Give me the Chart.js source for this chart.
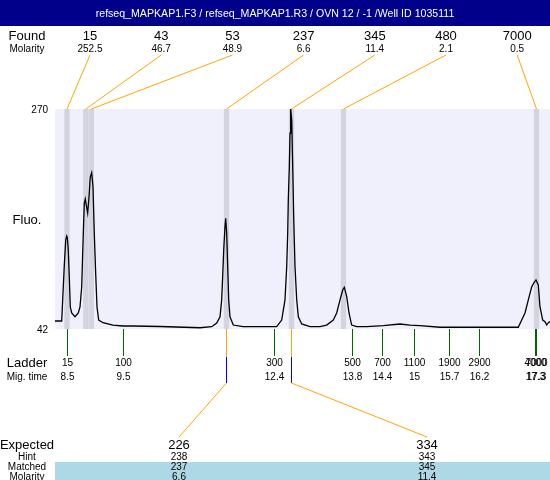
<!DOCTYPE html>
<html><head><meta charset="utf-8">
<script src="https://cdn.jsdelivr.net/npm/chart.js@4"></script>
<style>html,body{margin:0;padding:0;background:#fff;}canvas{display:block;}</style>
</head><body>
<canvas id="c" width="550" height="480"></canvas>
<script>
const titleText = "refseq_MAPKAP1.F3 / refseq_MAPKAP1.R3 / OVN 12 / -1 /Well ID 1035111";

// Found peaks
const foundSizes = [15, 43, 53, 237, 345, 480, 7000];
const foundMolarity = ["252.5", "46.7", "48.9", "6.6", "11.4", "2.1", "0.5"];
const foundTimes = [8.50, 8.854, 8.957, 11.492, 12.712, 13.687, 17.309];

// Ladder
const ladderSizes = [15, 100, 300, 500, 700, 1100, 1900, 2900, 4000, 7000];
const ladderTimes = [8.509, 9.560, 12.389, 13.841, 14.416, 15.016, 15.673, 16.229, 17.275, 17.305];
const ladderMigLabels = ["8.5", "9.5", "12.4", "13.8", "14.4", "15", "15.7", "16.2", "17.3", "17.3"];

// Expected / matched table
const expectedSizes = [226, 334];
const hintSizes = [238, 343];
const matchedSizes = [237, 345];
const matchedMolarity = ["6.6", "11.4"];

// Axis
const yTicks = [42, 270];
const xMin = 8.275, xMax = 17.562;

// Electropherogram trace (migration time, fluorescence)
const traceTime = [8.275, 8.401, 8.419, 8.449, 8.476, 8.494, 8.506, 8.524, 8.543, 8.562, 8.588, 8.650, 8.712, 8.744, 8.776,
  8.806, 8.825, 8.843, 8.862, 8.888, 8.913, 8.937, 8.963, 8.988, 9.012, 9.038, 9.063, 9.095, 9.175, 9.363, 9.551, 9.738,
  10.245, 10.995, 11.215, 11.309, 11.371, 11.402, 11.421, 11.440, 11.464, 11.477, 11.496, 11.515, 11.534, 11.558, 11.620,
  11.802, 12.121, 12.434, 12.528, 12.590, 12.622, 12.641, 12.652, 12.671, 12.684, 12.697, 12.716, 12.735, 12.753, 12.778,
  12.810, 12.840, 12.903, 13.059, 13.247, 13.372, 13.496, 13.560, 13.622, 13.673, 13.703, 13.748, 13.791, 13.841, 13.935,
  14.123, 14.434, 14.748, 14.935, 15.123, 15.498, 15.999, 16.624, 16.967, 17.031, 17.093, 17.155, 17.219, 17.262, 17.299,
  17.342, 17.374, 17.425, 17.468, 17.500, 17.530, 17.562];
const traceFluo = [50.3, 50.3, 72.1, 107.3, 134.2, 138.4, 137.0, 123.9, 95.9, 64.8, 58.6, 54.7, 58.6, 64.8, 85.5,
  141.5, 172.6, 176.7, 170.5, 162.2, 178.8, 199.5, 204.0, 189.5, 141.5, 100.0, 64.8, 51.3, 48.5, 46.1, 45.1, 45.1,
  44.6, 43.3, 44.4, 48.2, 54.7, 72.1, 96.2, 123.9, 148.0, 156.7, 141.5, 106.6, 72.1, 54.7, 46.1,
  44.4, 44.4, 44.4, 51.3, 72.1, 106.6, 141.5, 175.7, 210.2, 245.1, 270.0, 258.6, 210.2, 158.4, 106.6,
  72.1, 54.7, 47.2, 44.4, 44.4, 46.1, 51.3, 58.6, 72.1, 82.4, 85.2, 75.5, 58.6, 46.1, 44.4,
  44.4, 45.4, 47.2, 46.1, 45.4, 43.8, 43.8, 43.8, 43.8, 51.3, 58.6, 72.1, 85.8, 90.0, 92.8,
  87.6, 65.1, 51.3, 49.6, 46.1, 48.5, 49.6];

const FONT = '"Liberation Sans", Arial, Helvetica, sans-serif';
const C = {
  titleBg: '#00008B', plotBg: '#F0F0FC', band: '#D4D4E0', orange: '#FFA500',
  green: '#006400', blue: '#0000FF', matchedBg: '#ADD8E6', trace: '#000000'
};
const bandHalf = 0.05;
const foundLabelX0 = 90, foundLabelStep = 71.2;
const expectedLabelX = [179, 427];

function txt(ctx, s, x, y, size, align, color) {
  ctx.font = size + 'px ' + FONT;
  ctx.textAlign = align || 'center';
  ctx.textBaseline = 'middle';
  ctx.fillStyle = color || '#000';
  ctx.fillText(String(s), x, y);
}
function seg(ctx, x0, y0, x1, y1, color) {
  ctx.beginPath();
  ctx.strokeStyle = color;
  ctx.lineWidth = 1;
  ctx.moveTo(x0, y0); ctx.lineTo(x1, y1);
  ctx.stroke();
}

const overlay = {
  id: 'overlay',
  beforeDatasetsDraw(chart) {
    const { ctx, chartArea: a, scales: { x } } = chart;
    ctx.save();
    ctx.fillStyle = C.plotBg;
    ctx.fillRect(a.left, a.top, a.right - a.left, a.bottom - a.top);
    ctx.fillStyle = C.band;
    foundTimes.forEach(t => {
      const x0 = x.getPixelForValue(t - bandHalf), x1 = x.getPixelForValue(t + bandHalf);
      ctx.fillRect(x0, a.top, x1 - x0, a.bottom - a.top);
    });
    ctx.restore();
  },
  afterDraw(chart) {
    const { ctx, chartArea: a, scales: { x, y } } = chart;
    const W = chart.width;
    ctx.save();
    // title bar
    ctx.fillStyle = C.titleBg;
    ctx.fillRect(0, 0, W, 26);
    txt(ctx, titleText, W / 2, 14, 10.6, 'center', '#fff');

    // Found row
    txt(ctx, 'Found', 27, 36, 13);
    txt(ctx, 'Molarity', 27, 49, 10);
    foundSizes.forEach((s, i) => {
      const lx = foundLabelX0 + i * foundLabelStep;
      txt(ctx, s, lx, 36, 13);
      txt(ctx, foundMolarity[i], lx, 49, 10);
      seg(ctx, lx, 55, x.getPixelForValue(foundTimes[i]), a.top, C.orange);
    });

    // y labels
    yTicks.forEach(v => txt(ctx, v, 48, y.getPixelForValue(v) + 1, 10, 'right'));
    txt(ctx, 'Fluo.', 27, 220, 13);

    // Ladder
    txt(ctx, 'Ladder', 27, 363, 13);
    txt(ctx, 'Mig. time', 27, 377, 10);
    ladderSizes.forEach((s, i) => {
      const px = Math.round(x.getPixelForValue(ladderTimes[i])) + 0.5;
      seg(ctx, px, a.bottom, px, 356, C.green);
      txt(ctx, s, px, 363, 10);
      txt(ctx, ladderMigLabels[i], px, 377, 10);
    });

    // Expected table
    ctx.fillStyle = C.matchedBg;
    ctx.fillRect(a.left, 462, W - a.left, 480 - 462);
    txt(ctx, 'Expected', 27, 445, 13);
    txt(ctx, 'Hint', 27, 457, 10);
    txt(ctx, 'Matched', 27, 467.5, 10);
    txt(ctx, 'Molarity', 27, 477.5, 10);
    expectedSizes.forEach((s, i) => {
      const lx = expectedLabelX[i];
      txt(ctx, s, lx, 445, 13);
      txt(ctx, hintSizes[i], lx, 457, 10);
      txt(ctx, matchedSizes[i], lx, 467.5, 10);
      txt(ctx, matchedMolarity[i], lx, 477.5, 10);
      const fi = foundSizes.indexOf(matchedSizes[i]);
      const px = Math.round(x.getPixelForValue(foundTimes[fi])) + 0.5;
      seg(ctx, px, a.bottom, px, 357, C.orange);
      seg(ctx, px, 357, px, 383, C.blue);
      seg(ctx, px, 383, lx, 437, C.orange);
    });
    ctx.restore();
  }
};

new Chart(document.getElementById('c').getContext('2d'), {
  type: 'line',
  data: {
    datasets: [{
      data: traceTime.map((t, i) => ({ x: t, y: traceFluo[i] })),
      borderColor: C.trace, borderWidth: 1.3, pointRadius: 0, tension: 0, fill: false
    }]
  },
  options: {
    responsive: false, animation: false, devicePixelRatio: 1, events: [],
    layout: { padding: { left: 55, right: 0, top: 109, bottom: 151 } },
    plugins: { legend: { display: false }, tooltip: { enabled: false }, title: { display: false } },
    scales: {
      x: { type: 'linear', min: xMin, max: xMax, display: false },
      y: { min: yTicks[0], max: yTicks[1], display: false }
    }
  },
  plugins: [overlay]
});
</script>
</body></html>
